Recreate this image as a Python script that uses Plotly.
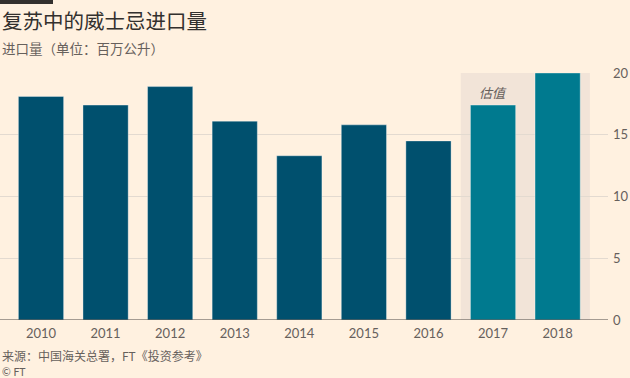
import plotly.graph_objects as go

years = [2010, 2011, 2012, 2013, 2014, 2015, 2016, 2017, 2018]
imports = [18.1, 17.4, 18.9, 16.1, 13.3, 15.8, 14.5, 17.4, 20.0]
is_estimate = [False] * 7 + [True, True]
y_ticks = [0, 5, 10, 15, 20]

colors = ["#007a8f" if e else "#00506e" for e in is_estimate]

fig = go.Figure()
fig.add_trace(go.Bar(
    x=years, y=imports, marker_color=colors,
    marker_line=dict(color="rgba(255,255,255,0.35)", width=1),
    width=0.7, hoverinfo="x+y",
))

fig.add_shape(type="rect", xref="x", yref="y", x0=2016.5, x1=2018.5, y0=0, y1=20,
              fillcolor="#f2e4d8", line_width=0, layer="below")
fig.add_shape(type="line", xref="paper", yref="y", x0=0, x1=1, y0=0, y1=0,
              line=dict(color="#4d4845", width=1.2))
fig.add_shape(type="rect", xref="paper", yref="paper", x0=0, x1=53/608, y0=1 + 69/247, y1=1 + 73/247,
              fillcolor="#33302e", line_width=0)

fig.add_annotation(x=2017, y=18.4, xref="x", yref="y", text="<i>估值</i>", showarrow=False,
                   font=dict(family="Noto Sans CJK SC", size=13, color="#66605c"))

fig.add_annotation(x=0, y=1, xref="paper", yref="paper", xanchor="left", yanchor="top",
                   yshift=70, text="复苏中的威士忌进口量", showarrow=False,
                   font=dict(family="Noto Sans CJK SC", size=20.5, color="#33302e"))
fig.add_annotation(x=0, y=1, xref="paper", yref="paper", xanchor="left", yanchor="top",
                   yshift=37, text="进口量（单位：百万公升）", showarrow=False,
                   font=dict(family="Noto Sans CJK SC", size=13.5, color="#66605c"))
fig.add_annotation(x=0, y=0, xref="paper", yref="paper", xanchor="left", yanchor="top",
                   yshift=-25, text="来源：中国海关总署，FT《投资参考》", showarrow=False,
                   font=dict(family="Noto Sans CJK SC", size=12, color="#66605c"))
fig.add_annotation(x=0, y=0, xref="paper", yref="paper", xanchor="left", yanchor="top",
                   yshift=-44, text="© FT", showarrow=False,
                   font=dict(family="Lato", size=10.5, color="#66605c"))

fig.update_layout(
    width=630, height=378,
    paper_bgcolor="#fff1e0", plot_bgcolor="#fff1e0",
    margin=dict(l=0, r=22, t=73, b=58),
    showlegend=False, bargap=0.3,
    xaxis=dict(range=[2009.365, 2018.78], tickvals=years, ticktext=[str(y) for y in years],
               showgrid=False, zeroline=False, ticks="", showline=False,
               ticklabelstandoff=4,
               tickfont=dict(family="Lato", size=13, color="#66605c")),
    yaxis=dict(range=[0, 20], tickvals=y_ticks, side="right", showgrid=True,
               gridcolor="#e3dad0", gridwidth=1, zeroline=False, ticks="",
               ticklabelstandoff=4,
               tickfont=dict(family="Lato", size=13, color="#66605c")),
)

fig.write_html("out.html", config={"displayModeBar": False},
               post_script="document.body.style.margin='0';")
